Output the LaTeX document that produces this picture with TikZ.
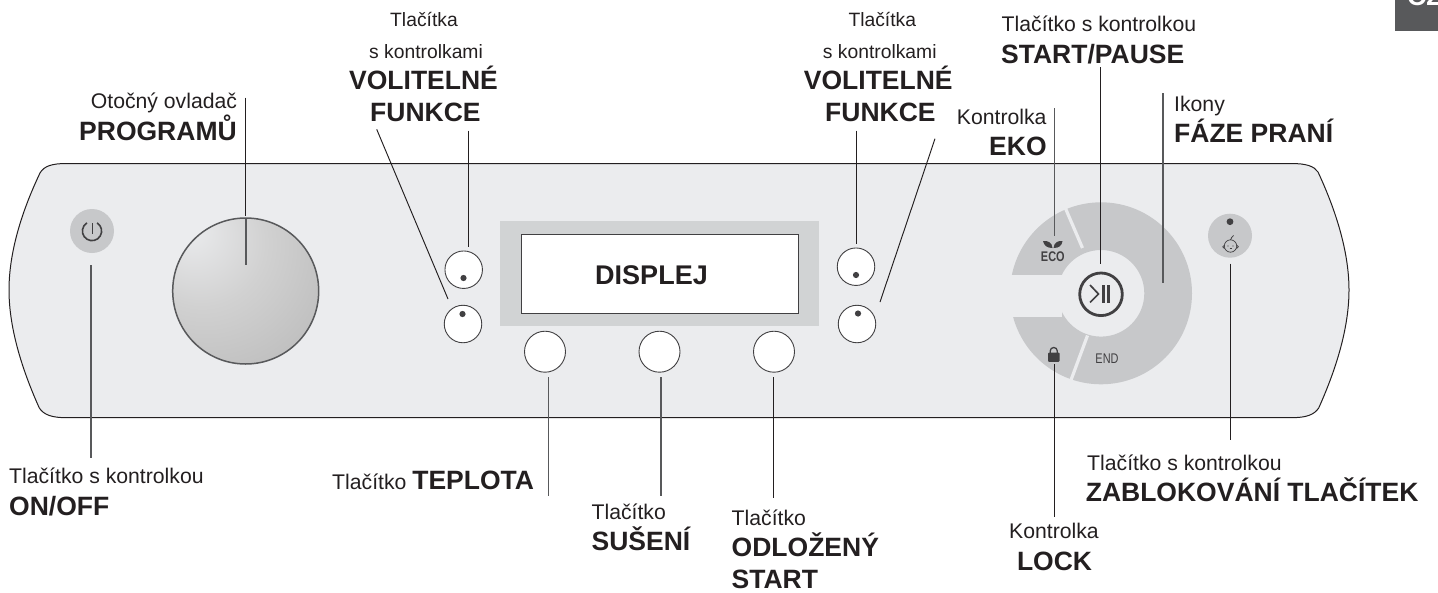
\documentclass[tikz,border=0pt]{standalone}
\usepackage{fontspec}
\setmainfont{Liberation Sans}
\definecolor{panelbg}{HTML}{EBECEE}
\definecolor{ringgrey}{HTML}{C7C8CA}
\definecolor{dispgrey}{HTML}{D1D3D4}
\definecolor{icon}{HTML}{414042}
\definecolor{inkline}{HTML}{231F20}
\definecolor{midline}{HTML}{58595B}
\definecolor{tabgrey}{HTML}{58595B}
\pgfdeclareradialshading{knobsh}{\pgfpoint{-20bp}{22bp}}{%
  color(0bp)=(panelbg);color(22bp)=(black!18);color(48bp)=(black!27);color(72bp)=(black!38);color(90bp)=(black!42)}
\tikzset{
  reg/.style={anchor=base west,inner sep=0pt,text=inkline,font=\fontsize{21.2}{25}\selectfont},
  sml/.style={anchor=base west,inner sep=0pt,text=inkline,font=\fontsize{19.3}{23}\selectfont},
  bld/.style={anchor=base west,inner sep=0pt,text=inkline,font=\fontsize{26.5}{30}\selectfont\bfseries},
  wbtn/.style={circle,draw=icon,fill=white,line width=0.9pt,inner sep=0pt},
  gbtn/.style={circle,fill=ringgrey,inner sep=0pt,minimum size=44pt},
  leader/.style={draw=inkline,line width=0.95pt},
  greyleader/.style={draw=midline,line width=1.15pt},
  dotmark/.style={fill=icon},
  nar/.style={inner sep=0pt,text=icon,xscale=0.78}
}
\begin{document}
\begin{tikzpicture}[x=1pt,y=-1pt]
\useasboundingbox (0,0) rectangle (1438,592);
% tab
\fill[tabgrey] (1395,0) rectangle (1438,30.7);
\begin{scope}
  \clip (1395,0) rectangle (1438,30.7);
  \node[bld,text=white] (tab) at (1407,5.5) {CZ};
\end{scope}
% panel
\draw[fill=panelbg,draw=inkline,line width=1pt]
  (66.7,163.5) -- (1291,163.5)
  .. controls (1306,163.5) and (1314,166) .. (1318,172)
  .. controls (1338,215) and (1349,255) .. (1349,290)
  .. controls (1349,325) and (1338,365) .. (1318.7,408)
  .. controls (1314,415) and (1306,417.7) .. (1291,417.7)
  -- (66.7,417.7)
  .. controls (52,417.7) and (44,415) .. (39.3,408)
  .. controls (20,365) and (9,325) .. (9,290)
  .. controls (9,255) and (20,215) .. (40,173)
  .. controls (44,166) and (52,163.5) .. (66.7,163.5) -- cycle;
% power button
\node[gbtn] (power) at (92,231) {};
\draw[icon,line width=1.6pt] (97.1,222.9) arc[start angle=-58,end angle=238,radius=9.6];
\draw[icon,line width=1.6pt] (92.3,223) -- (92.3,233.5);
% knob
\shade[shading=knobsh] (245.7,291) circle (73);
\draw[midline,line width=1.5pt] (245.7,291) circle (73);
\coordinate (knobtop) at (246,219);
\coordinate (knobin) at (246,265);
\draw[midline,line width=2.4pt] (knobtop) -- (knobin);
% display
\fill[dispgrey] (500,221) rectangle (819,326);
\draw[fill=white,draw=icon,line width=1pt] (521,234.5) rectangle (798.5,313);
\node[anchor=base,inner sep=0pt,text=inkline,font=\fontsize{27}{30}\selectfont\bfseries] (disp) at (651.5,284) {DISPLEJ};
% white buttons
\node[wbtn,minimum size=37.5pt] (lu) at (463.7,269.7) {};
\node[wbtn,minimum size=37.5pt] (ll) at (463,324) {};
\node[wbtn,minimum size=37.5pt] (ru) at (856,266.7) {};
\node[wbtn,minimum size=37.5pt] (rl) at (857,324) {};
\fill[dotmark] (463.5,278) circle (3.1);
\fill[dotmark] (462.5,314) circle (3.1);
\fill[dotmark] (856,275) circle (3.1);
\fill[dotmark] (858,313.5) circle (3.1);
\node[wbtn,minimum size=41pt] (b1) at (545,351.7) {};
\node[wbtn,minimum size=41pt] (b2) at (659.5,351.7) {};
\node[wbtn,minimum size=41pt] (b3) at (774,351.7) {};
% ring
\fill[ringgrey,even odd rule] (1101,293.3) circle (91) (1101,293.3) circle (43.3);
\fill[panelbg] (1005,275) rectangle (1062,317.3);
\draw[panelbg,line width=3.2pt] (1082.5,248) -- (1061,198);
\draw[panelbg,line width=3.2pt] (1087.5,335.5) -- (1071,380);
% start button
\draw[icon,line width=2.8pt] (1101,294.3) circle (21.3);
\coordinate (chev1) at (1090,285);
\coordinate (chev2) at (1098.5,294);
\coordinate (chev3) at (1090,302.5);
\draw[icon,line width=1.7pt] (chev1) -- (chev2) -- (chev3);
\draw[icon,line width=2.2pt] (1103.5,285) -- (1103.5,302.5) (1108.5,285) -- (1108.5,302.5);
% eco icon
\fill[icon] (1043,241) .. controls (1048,240.5) and (1052,242.5) .. (1052.5,248) .. controls (1047,248) and (1044,245.5) .. (1043,241) -- cycle;
\fill[icon] (1062.5,241) .. controls (1058,240.5) and (1054,242.5) .. (1053.5,248) .. controls (1059,248) and (1062,245.5) .. (1062.5,241) -- cycle;
\node[nar,font=\fontsize{14}{16}\selectfont\bfseries] (eco) at (1052.8,256.8) {ECO};
\node[nar,font=\fontsize{14}{16}\selectfont] (endt) at (1107,358.5) {END};
% lock icon
\fill[icon,rounded corners=1pt] (1048,352.5) rectangle (1059.5,361.8);
\draw[icon,line width=1.3pt] (1050.2,353) -- (1050.2,351) arc[start angle=180,end angle=360,radius=3.55] -- (1057.3,353);
% child lock button
\node[gbtn] (child) at (1230,235.7) {};
\fill[icon] (1230,221.7) circle (3.4);
\draw[icon,line width=0.7pt] (1230.5,246) circle (6.2);
\draw[icon,line width=0.7pt] (1224.5,245) arc[start angle=270,end angle=90,radius=1.8] (1236.5,245) arc[start angle=-90,end angle=90,radius=1.8];
\draw[icon,line width=0.8pt] (1230.5,240) .. controls (1231,238) and (1232,237) .. (1233.5,235.5);
\fill[icon] (1228,246) circle (0.6) (1233,246) circle (0.6);
\draw[icon,line width=0.4pt] (1229.5,248.5) -- (1231.5,248.5);
% leader lines
\coordinate (a1) at (245,97.7);  \coordinate (a2) at (245,216);
\coordinate (c1) at (376.7,129.3); \coordinate (c2) at (448,299);
\coordinate (d1) at (468.3,130.7); \coordinate (d2) at (468.3,247);
\coordinate (e1) at (856,130.7); \coordinate (e2) at (856,243.5);
\coordinate (f1) at (935,138.7); \coordinate (f2) at (880,302);
\coordinate (g1) at (1054.3,108.3); \coordinate (g2) at (1054.3,235.7);
\coordinate (h1) at (1100,67.3); \coordinate (h2) at (1100,264);
\coordinate (i1) at (1163,93.3); \coordinate (i2) at (1163,283);
\coordinate (j1) at (91,265); \coordinate (j2) at (91,457.7);
\coordinate (k1) at (548.7,377.3); \coordinate (k2) at (548.7,496);
\coordinate (m1) at (661,377.3); \coordinate (m2) at (661,496);
\coordinate (n1) at (773.3,377.3); \coordinate (n2) at (773.3,498);
\coordinate (o1) at (1054.3,364); \coordinate (o2) at (1054.3,516.7);
\coordinate (p1) at (1230.3,263.7); \coordinate (p2) at (1230.3,440);
\draw[leader] (a1) -- (a2);
\draw[leader] (c1) -- (c2);
\draw[leader] (d1) -- (d2);
\draw[leader] (e1) -- (e2);
\draw[leader] (f1) -- (f2);
\draw[greyleader] (g1) -- (g2);
\draw[leader] (h1) -- (h2);
\draw[greyleader] (i1) -- (i2);
\draw[greyleader] (j1) -- (j2);
\draw[greyleader] (k1) -- (k2);
\draw[greyleader] (m1) -- (m2);
\draw[leader] (n1) -- (n2);
\draw[leader] (o1) -- (o2);
\draw[leader] (p1) -- (p2);
% labels
\node[reg] (t1) at (90.7,108) {Otočný ovladač};
\node[bld] (t2) at (79,140) {PROGRAMŮ};
\node[sml] (t3) at (390,26) {Tlačítka};
\node[sml] (t4) at (369,58.3) {s kontrolkami};
\node[bld] (t5) at (349,89.3) {VOLITELNÉ};
\node[bld] (t6) at (370,121.7) {FUNKCE};
\node[sml] (t7) at (848.3,26) {Tlačítka};
\node[sml] (t8) at (822.7,58.3) {s kontrolkami};
\node[bld] (t9) at (803.7,89.3) {VOLITELNÉ};
\node[bld] (t10) at (825,121.7) {FUNKCE};
\node[reg] (t11) at (956.7,124) {Kontrolka};
\node[bld] (t12) at (989,155) {EKO};
\node[reg] (t13) at (1001.5,31.7) {Tlačítko s kontrolkou};
\node[bld] (t14) at (1001,63.3) {START/PAUSE};
\node[reg] (t15) at (1174,111) {Ikony};
\node[bld] (t16) at (1174,142.7) {FÁZE PRANÍ};
\node[reg] (t17) at (9,483) {Tlačítko s kontrolkou};
\node[bld] (t18) at (9,515) {ON/OFF};
\node[reg] (t19) at (332,489) {Tlačítko \fontsize{26.5}{30}\selectfont\bfseries TEPLOTA};
\node[reg] (t20) at (591.4,519) {Tlačítko};
\node[bld] (t21) at (591.4,550.7) {SUŠENÍ};
\node[reg] (t22) at (731.5,525) {Tlačítko};
\node[bld] (t23) at (731.5,556) {ODLOŽENÝ};
\node[bld] (t24) at (731.5,588) {START};
\node[reg] (t25) at (1009,538) {Kontrolka};
\node[bld] (t26) at (1016.8,570) {LOCK};
\node[reg] (t27) at (1087,470) {Tlačítko s kontrolkou};
\node[bld] (t28) at (1085.6,501.7) {ZABLOKOVÁNÍ TLAČÍTEK};
\end{tikzpicture}
\end{document}
